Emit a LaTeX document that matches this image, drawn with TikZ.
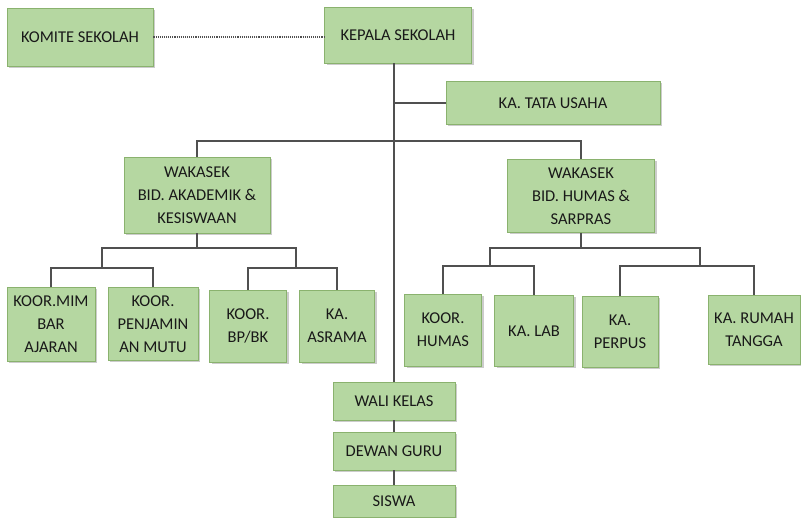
\documentclass[tikz,border=0pt]{standalone}
\usepackage{fontspec}
\setmainfont{Carlito}
\usetikzlibrary{shadows}
\definecolor{boxfill}{RGB}{181,215,161}
\definecolor{boxline}{RGB}{138,178,110}
\definecolor{linkgray}{RGB}{80,80,80}
\definecolor{txt}{RGB}{25,25,25}
\tikzset{
  unit/.style={rectangle,draw=boxline,fill=boxfill,line width=0.8pt,
    inner sep=2pt,align=center,text=txt,
    font=\fontsize{16.5}{23}\selectfont,
    drop shadow={shadow xshift=2pt,shadow yshift=-2pt,opacity=0.4}},
  link/.style={draw=linkgray,line width=1.1pt},
  advisory/.style={draw=linkgray,line width=1.1pt,densely dotted}
}

\begin{document}
\begin{tikzpicture}[x=1pt,y=-1pt]
\useasboundingbox (0,0) rectangle (801,518);

% Top level
\node[unit,minimum width=146pt,minimum height=58pt] (komite) at (80,37) {KOMITE SEKOLAH};
\node[unit,minimum width=147pt,minimum height=56pt] (kepala) at (398,35) {KEPALA SEKOLAH};
\node[unit,minimum width=214pt,minimum height=43pt] (tata) at (553,103) {KA. TATA USAHA};

% Wakasek
\node[unit,minimum width=146pt,minimum height=76pt] (wakaAk) at (197,195)
  {WAKASEK\\BID. AKADEMIK \&\\KESISWAAN};
\node[unit,minimum width=147pt,minimum height=73pt] (wakaHu) at (581,196)
  {WAKASEK\\BID. HUMAS \&\\SARPRAS};

% Units under akademik
\node[unit,minimum width=88pt,minimum height=74pt] (mim) at (51,324) {KOOR.MIM\\BAR\\AJARAN};
\node[unit,minimum width=90pt,minimum height=73pt] (mutu) at (153,324) {KOOR.\\PENJAMIN\\AN MUTU};
\node[unit,minimum width=77pt,minimum height=72pt] (bpbk) at (248,326) {KOOR.\\BP/BK};
\node[unit,minimum width=75pt,minimum height=72pt] (asrama) at (337,326) {KA.\\ASRAMA};

% Units under humas
\node[unit,minimum width=77pt,minimum height=72pt] (humas) at (443,330) {KOOR.\\HUMAS};
\node[unit,minimum width=79pt,minimum height=71pt] (lab) at (534,331) {KA. LAB};
\node[unit,minimum width=76pt,minimum height=71pt] (perpus) at (620,332) {KA.\\PERPUS};
\node[unit,minimum width=92pt,minimum height=69pt] (rumah) at (754,330) {KA. RUMAH\\TANGGA};

% Chain at the bottom
\node[unit,minimum width=122pt,minimum height=38pt] (wali) at (394,401) {WALI KELAS};
\node[unit,minimum width=122pt,minimum height=38pt] (dewan) at (394,451) {DEWAN GURU};
\node[unit,minimum width=122pt,minimum height=32pt] (siswa) at (394,501) {SISWA};

% Bus points
\coordinate (bus) at (0,141);
\coordinate (jAk) at (190,248);
\coordinate (ja) at (102,268);
\coordinate (jb) at (296,268);
\coordinate (jHu) at (586,248);
\coordinate (jc) at (490,266);
\coordinate (jd) at (700,266);

% Spine
\draw[advisory] (komite.east) -- (komite.east -| kepala.west);
\draw[link] (kepala.south -| wali.north) -- (wali.north);
\draw[link] (tata.west) -- (tata.west -| wali.north);
\draw[link] (wakaAk.north) |- (bus -| wali.north) -| (wakaHu.north);
\draw[link] (wali) -- (dewan);
\draw[link] (dewan) -- (siswa);

% Akademik branch
\draw[link] (wakaAk.south) -- (wakaAk.south |- jAk);
\draw[link] (ja) |- (jAk) -| (jb);
\draw[link] (mim.north) |- (ja) -| (mutu.north);
\draw[link] (bpbk.north) |- (jb) -| (asrama.north);

% Humas branch
\draw[link] (wakaHu.south) -- (wakaHu.south |- jHu);
\draw[link] (jc) |- (jHu) -| (jd);
\draw[link] (humas.north) |- (jc) -| (lab.north);
\draw[link] (perpus.north) |- (jd) -| (rumah.north);

\end{tikzpicture}
\end{document}
